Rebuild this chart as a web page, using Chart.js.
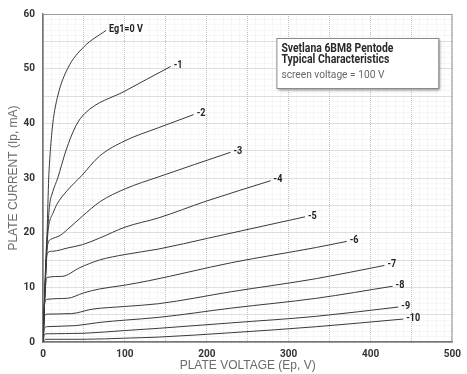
<!DOCTYPE html>
<html>
<head>
<meta charset="utf-8">
<script src="https://cdn.jsdelivr.net/npm/chart.js@4/dist/chart.umd.min.js"></script>
<style>
  html, body { margin: 0; padding: 0; background: #fff; }
  #wrap { width: 467px; height: 374px; }
</style>
</head>
<body>
<div id="wrap"><canvas id="plateChart" width="467" height="374"></canvas></div>
<script>
// grid bias of each curve, printed at its right end
const gridLabels = ['Eg1=0 V', '-1', '-2', '-3', '-4', '-5', '-6', '-7', '-8', '-9', '-10'];

// plate curves as [Ep (V), Ip (mA)]
const eg0 = [[0, 0], [2, 8], [4, 15], [5, 20], [7, 30], [9, 35], [12, 40], [18, 45], [30, 50], [50, 54], [77, 57]];
const eg1 = [[0, 0], [4, 17], [6, 21], [8, 25], [12, 27.5], [18, 30], [28, 35], [40, 39.5], [51, 41.8], [100, 45.9], [156, 50.4]];
const eg2 = [[0, 0], [4, 15], [6, 20], [8, 22], [12, 23.5], [17, 25.2], [29, 27.6], [47, 30.4], [69, 34], [100, 36.8], [141, 39.2], [184, 41.6]];
const eg3 = [[0, 0], [4, 15], [6, 18], [10, 18.8], [21, 19.5], [33, 21], [48, 23], [70, 25.7], [100, 28], [141, 30.2], [229, 34.7]];
const eg4 = [[0, 0], [4, 14.5], [6, 16.4], [12, 16.6], [30, 17.2], [48, 17.8], [69, 19], [100, 21], [141, 22.7], [200, 25.8], [278, 29.5]];
const eg5 = [[0, 0], [3, 10], [5, 11.8], [23, 12], [45, 13.6], [69, 15], [100, 16], [141, 17], [202, 19], [320, 22.9]];
const eg6 = [[0, 0], [2, 7], [5, 7.8], [30, 8], [50, 9], [69, 9.7], [100, 10.4], [129, 11.2], [230, 14.5], [334, 17.3], [371, 18.4]];
const eg7 = [[0, 0], [2, 4.8], [5, 5.1], [35, 5.2], [60, 6], [100, 6.5], [141, 7], [230, 9.2], [334, 11.6], [417, 14]];
const eg8 = [[0, 0], [2, 2.6], [5, 2.8], [40, 3], [70, 3.6], [100, 4], [141, 4.5], [230, 6.2], [334, 8], [427, 10.2]];
const eg9 = [[0, 0], [2, 1.4], [5, 1.5], [50, 1.6], [100, 2.1], [141, 2.5], [230, 3.5], [334, 4.7], [434, 6.4]];
const eg10 = [[0, 0], [3, 0.5], [50, 0.5], [100, 0.7], [141, 0.9], [230, 1.7], [334, 2.8], [440, 4.2]];
const curves = [eg0, eg1, eg2, eg3, eg4, eg5, eg6, eg7, eg8, eg9, eg10];

// labelled ticks
const xTicks = [0, 100, 200, 300, 400, 500];
const yTicks = [0, 10, 20, 30, 40, 50, 60];

const boxTitle = ['Svetlana 6BM8 Pentode', 'Typical Characteristics'];
const boxNote = 'screen voltage = 100 V';

const SANS = 'Roboto, "Liberation Sans", Arial, sans-serif';

// frame around the plot area (top and right sides)
const plotFrame = {
    id: 'plotFrame',
    beforeDatasetsDraw(chart) {
        const a = chart.chartArea;
        const ctx = chart.ctx;
        ctx.save();
        ctx.strokeStyle = '#9a9a9a';
        ctx.lineWidth = 1;
        ctx.strokeRect(a.left + 0.5, a.top + 0.5, a.right - a.left - 1, a.bottom - a.top);
        ctx.restore();
    }
};

// bias label at the end of each curve, squeezed to look condensed
const curveLabels = {
    id: 'curveLabels',
    afterDatasetsDraw(chart) {
        const ctx = chart.ctx;
        ctx.save();
        ctx.font = 'bold 11px ' + SANS;
        ctx.fillStyle = '#222';
        ctx.textBaseline = 'middle';
        chart.data.datasets.forEach(function (ds, i) {
            const pts = chart.getDatasetMeta(i).data;
            const last = pts[pts.length - 1];
            const w = ctx.measureText(ds.label).width * 0.82;
            ctx.fillText(ds.label, last.x + 3, last.y - 1, w);
        });
        ctx.restore();
    }
};

// title box in the upper right
const titleBox = {
    id: 'titleBox',
    afterDraw(chart) {
        const a = chart.chartArea;
        const ctx = chart.ctx;
        const x = a.right - 176, y = a.top + 24, w = 162, h = 50;
        ctx.save();
        ctx.shadowColor = 'rgba(0,0,0,0.5)';
        ctx.shadowBlur = 3;
        ctx.shadowOffsetX = 2;
        ctx.shadowOffsetY = 2;
        ctx.fillStyle = '#fff';
        ctx.fillRect(x, y, w, h);
        ctx.shadowColor = 'transparent';
        ctx.strokeStyle = '#8a8a8a';
        ctx.lineWidth = 1;
        ctx.strokeRect(x + 0.5, y + 0.5, w, h);
        ctx.fillStyle = '#2a2a2a';
        ctx.textBaseline = 'middle';
        ctx.font = 'bold 13px ' + SANS;
        ctx.fillText(boxTitle[0], x + 5, y + 11, 112);
        ctx.fillText(boxTitle[1], x + 5, y + 22, 108);
        ctx.fillStyle = '#666';
        ctx.font = '11.5px ' + SANS;
        ctx.fillText(boxNote, x + 5, y + 37, 103);
        ctx.restore();
    }
};

const datasets = curves.map(function (c, i) {
    return {
        label: gridLabels[i],
        data: c.map(function (p) { return { x: p[0], y: p[1] }; }),
        borderColor: '#3a3a3a',
        borderWidth: 1,
        pointRadius: 0,
        fill: false,
        cubicInterpolationMode: 'monotone'
    };
});

new Chart(document.getElementById('plateChart'), {
    type: 'line',
    data: { datasets: datasets },
    options: {
        responsive: false,
        animation: false,
        events: [],
        layout: { padding: { top: 12, right: 10, left: 0, bottom: 0 } },
        plugins: { legend: { display: false }, tooltip: { enabled: false } },
        scales: {
            x: {
                type: 'linear',
                min: 0,
                max: 500,
                afterFit: function (s) { s.height = 32; },
                ticks: {
                    stepSize: 10,
                    autoSkip: false,
                    maxRotation: 0,
                    padding: 6,
                    color: '#333',
                    font: { family: SANS, size: 10, weight: 'bold' },
                    callback: function (v) { return xTicks.includes(v) ? v : ''; }
                },
                grid: {
                    drawTicks: false,
                    color: function (c) { return c.tick.value % 50 === 0 ? '#bdbdbd' : '#eeeeee'; }
                },
                border: { color: '#777', width: 1.5, dash: [1, 1] },
                title: {
                    display: true,
                    text: 'PLATE VOLTAGE (Ep, V)',
                    color: '#6a6a6a',
                    font: { family: '"Liberation Sans", Arial, sans-serif', size: 12 },
                    padding: { top: 0, bottom: 1 }
                }
            },
            y: {
                type: 'linear',
                min: 0,
                max: 60,
                afterFit: function (s) { s.width = 43; },
                ticks: {
                    stepSize: 1,
                    autoSkip: false,
                    padding: 8,
                    color: '#333',
                    font: { family: SANS, size: 10, weight: 'bold' },
                    callback: function (v) { return yTicks.includes(v) ? v : ''; }
                },
                grid: {
                    drawTicks: false,
                    color: function (c) { return c.tick.value % 5 === 0 ? '#bdbdbd' : '#eeeeee'; }
                },
                border: { color: '#777', width: 1.5, dash: [1, 1] },
                title: {
                    display: true,
                    text: 'PLATE CURRENT (Ip, mA)',
                    color: '#6a6a6a',
                    font: { family: '"Liberation Sans", Arial, sans-serif', size: 12 },
                    padding: { top: 6, bottom: 0 }
                }
            }
        }
    },
    plugins: [plotFrame, curveLabels, titleBox]
});
</script>
</body>
</html>
